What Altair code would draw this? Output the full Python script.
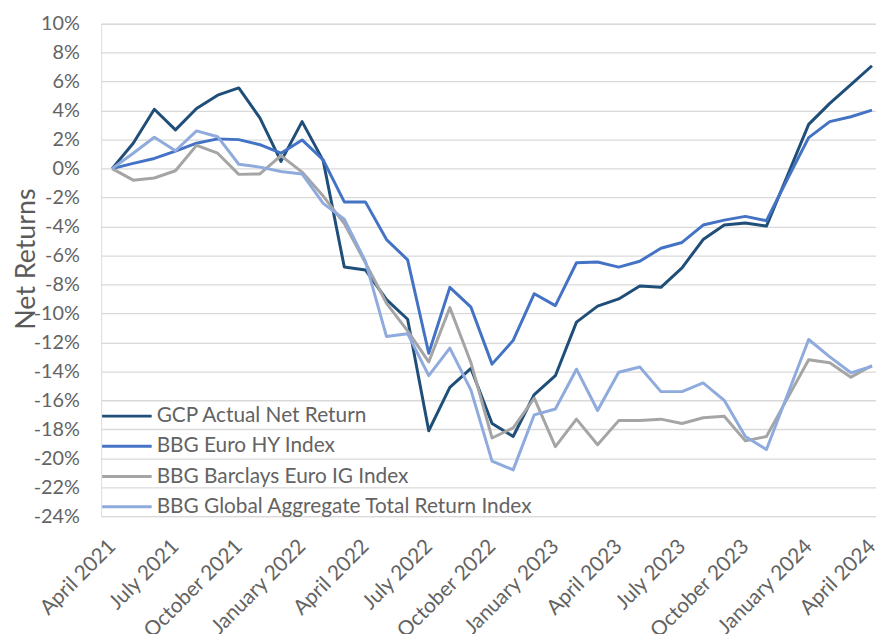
import altair as alt
import pandas as pd

months = [
    "April 2021", "May 2021", "June 2021", "July 2021", "August 2021", "September 2021",
    "October 2021", "November 2021", "December 2021", "January 2022", "February 2022",
    "March 2022", "April 2022", "May 2022", "June 2022", "July 2022", "August 2022",
    "September 2022", "October 2022", "November 2022", "December 2022", "January 2023",
    "February 2023", "March 2023", "April 2023", "May 2023", "June 2023", "July 2023",
    "August 2023", "September 2023", "October 2023", "November 2023", "December 2023",
    "January 2024", "February 2024", "March 2024", "April 2024",
]

series_names = [
    "GCP Actual Net Return",
    "BBG Euro HY Index",
    "BBG Barclays Euro IG Index",
    "BBG Global Aggregate Total Return Index",
]
series_colors = ["#1F4E79", "#4472C4", "#A5A5A5", "#8FAADC"]

gcp = [0, 1.75, 4.1, 2.67, 4.15, 5.07, 5.57, 3.5, 0.5, 3.24, 0.55, -6.8, -7.0, -9.05,
       -10.4, -18.1, -15.1, -13.8, -17.6, -18.5, -15.6, -14.3, -10.6, -9.5, -9.0, -8.1,
       -8.2, -6.85, -4.9, -3.9, -3.76, -3.97, -0.46, 3.05, 4.5, 5.8, 7.1]
euro_hy = [0, 0.36, 0.7, 1.2, 1.75, 2.05, 2.0, 1.65, 1.06, 1.98, 0.6, -2.3, -2.3, -4.9,
           -6.3, -12.75, -8.2, -9.57, -13.5, -11.86, -8.64, -9.46, -6.5, -6.45, -6.8, -6.4,
           -5.5, -5.1, -3.9, -3.56, -3.3, -3.6, -0.7, 2.14, 3.24, 3.58, 4.04]
euro_ig = [0, -0.8, -0.65, -0.15, 1.6, 1.06, -0.4, -0.37, 0.9, -0.24, -1.9, -3.8, -6.5,
           -9.3, -11.2, -13.35, -9.6, -13.4, -18.6, -17.9, -15.85, -19.2, -17.3, -19.07,
           -17.4, -17.4, -17.3, -17.6, -17.2, -17.1, -18.8, -18.5, -15.85, -13.2, -13.4,
           -14.4, -13.6]
global_agg = [0, 1.06, 2.16, 1.23, 2.6, 2.2, 0.3, 0.1, -0.2, -0.37, -2.4, -3.5, -6.4,
              -11.6, -11.4, -14.3, -12.4, -15.3, -20.2, -20.8, -17.0, -16.6, -13.85, -16.7,
              -14.06, -13.7, -15.4, -15.4, -14.8, -16.0, -18.5, -19.4, -15.6, -11.8, -13.0,
              -14.1, -13.65]

y_ticks = list(range(-24, 11, 2))
x_ticks = list(range(0, len(months), 3))

rows = []
for name, vals in zip(series_names, [gcp, euro_hy, euro_ig, global_agg]):
    for i, v in enumerate(vals):
        rows.append({"idx": i, "month": months[i], "series": name, "value": v})
df = pd.DataFrame(rows)

label_array = "[" + ",".join("'" + m + "'" for m in months) + "]"

FONT = "Lato"
TXT = "#636363"

chart = alt.Chart(df).mark_line(strokeWidth=3, strokeJoin="round").encode(
    x=alt.X(
        "idx:Q",
        scale=alt.Scale(domain=[-0.52, 36.19], nice=False, zero=False),
        axis=alt.Axis(
            values=x_ticks, labelExpr=label_array + "[datum.value]", title=None,
            grid=False, domain=False, ticks=False, labelAngle=315,
            labelAlign="right", labelBaseline="middle", labelPadding=27,
            labelFontSize=21, labelColor=TXT, labelFont=FONT, labelOverlap=False,
            labelBound=False, labelFlush=False,
        ),
    ),
    y=alt.Y(
        "value:Q",
        scale=alt.Scale(domain=[-24, 10], nice=False, zero=False),
        axis=alt.Axis(
            values=y_ticks, labelExpr="datum.value + '%'", title="Net Returns",
            grid=True, gridColor="#D9D9D9", gridWidth=1.3, domain=False, ticks=False,
            labelPadding=22, labelFontSize=20, labelColor=TXT, labelFont=FONT,
            titleFont=FONT, titleFontSize=27, titleFontWeight="normal", titleColor="#5a5a5a",
            titleAngle=270, titleX=-75, titleY=237, titleAlign="center",
            titleBaseline="middle", labelOverlap=False,
        ),
    ),
    color=alt.Color(
        "series:N",
        scale=alt.Scale(domain=series_names, range=series_colors),
        sort=series_names,
        legend=alt.Legend(
            title=None, orient="none", legendX=12, legendY=382,
            symbolType="M-2,0H2", symbolSize=625, symbolStrokeWidth=3,
            labelFont=FONT, labelFontSize=21, labelColor=TXT, labelOffset=16,
            rowPadding=6.5, padding=0, labelLimit=600,
        ),
    ),
    order=alt.Order("idx:Q"),
).properties(
    width=782,
    height=497,
    autosize=alt.AutoSizeParams(type="none"),
    padding={"left": 94, "top": 13, "right": 0, "bottom": 116},
).configure_view(stroke=None).configure(background="white")

chart.save("out.html", embed_options={"renderer": "svg", "actions": False})
